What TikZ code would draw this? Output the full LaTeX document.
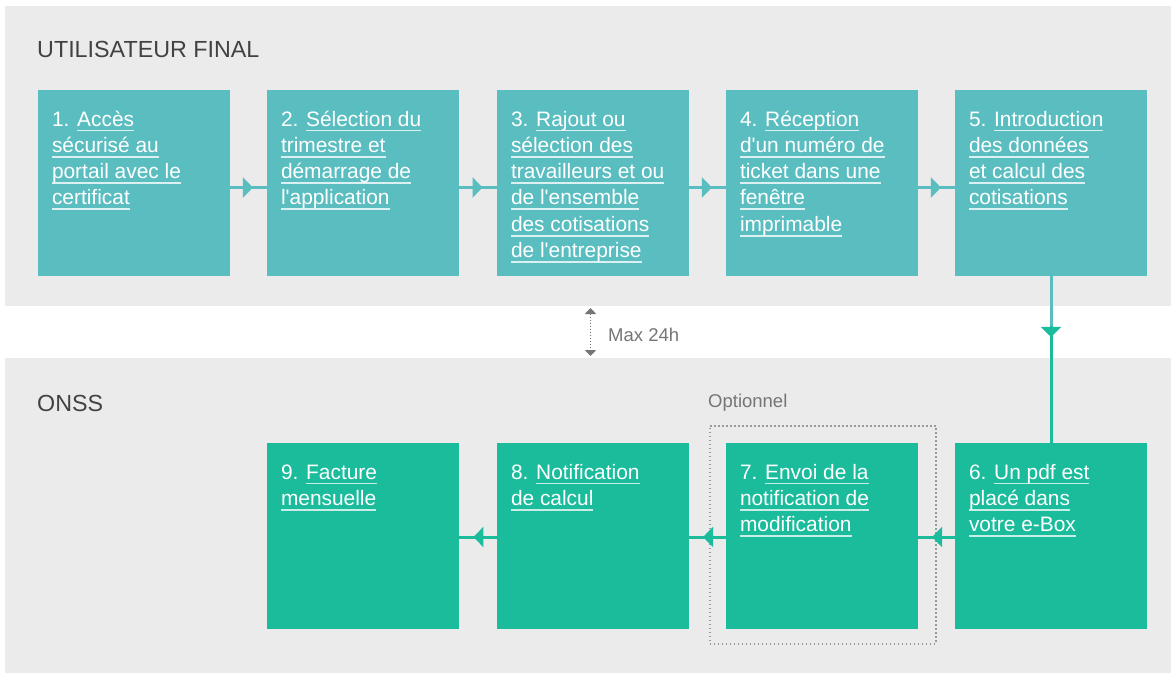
\documentclass[tikz,border=0pt]{standalone}
\usepackage{fontspec}
\setmainfont{Liberation Sans}
\usetikzlibrary{arrows.meta,decorations.markings,calc}
\definecolor{bandgray}{HTML}{EBEBEB}
\definecolor{topteal}{HTML}{5ABEC1}
\definecolor{botgreen}{HTML}{1ABC9C}
\definecolor{titlegray}{HTML}{424242}
\definecolor{labelgray}{HTML}{757575}
\definecolor{dotgray}{HTML}{9A9A9A}
\colorlet{ulc}{white}
\newcommand\ulw[1]{\setbox0\hbox{#1}\rlap{\textcolor{ulc}{\rule[-5.3pt]{\wd0}{1.8pt}}}\box0}
\newcommand\bx[2]{\vbox to 186pt{\hsize=192pt\parindent=0pt\leftskip=14pt\rightskip=0pt plus 1fil\baselineskip=26.3pt\lineskiplimit=-50pt\colorlet{ulc}{#1}\noindent\rule{0pt}{36pt}#2\par\vfil}}
\newcommand\topbx[1]{\bx{white!78!topteal}{#1}}
\newcommand\botbx[1]{\bx{white!75!botgreen}{#1}}
\tikzset{
  stepbox/.style={rectangle, fill=#1, inner sep=0pt, outer sep=0pt, anchor=north west, text=white, font=\fontsize{20.9}{26.3}\selectfont},
  flow/.style={line width=3pt, draw=#1, postaction={decorate}, decoration={markings, mark=at position 0.62 with {\arrow[#1]{Triangle[width=20pt,length=10pt]}}}},
  bandtitle/.style={anchor=base west, inner sep=0pt, text=titlegray, font=\fontsize{23.3}{27}\selectfont},
  smalllabel/.style={anchor=base west, inner sep=0pt, text=labelgray, font=\fontsize{18.5}{22}\selectfont},
}
\begin{document}
\begin{tikzpicture}[x=1pt,y=-1pt]
\useasboundingbox (0,0) rectangle (1171,675);
\fill[white] (0,0) rectangle (1171,675);
\fill[bandgray] (5,6) rectangle (1171,306);
\fill[bandgray] (5,358) rectangle (1171,673);
\node[bandtitle] (t1) at (37,57) {UTILISATEUR FINAL};
\node[bandtitle] (t2) at (37,411) {ONSS};
% top row
\node[stepbox=topteal] (b1) at (38,90) {\topbx{1. \ulw{Accès}\\\ulw{sécurisé au}\\\ulw{portail avec le}\\\ulw{certificat}}};
\node[stepbox=topteal] (b2) at (267,90) {\topbx{2. \ulw{Sélection du}\\\ulw{trimestre et}\\\ulw{démarrage de}\\\ulw{l\textquotesingle application}}};
\node[stepbox=topteal] (b3) at (497,90) {\topbx{3. \ulw{Rajout ou}\\\ulw{sélection des}\\\ulw{travailleurs et ou}\\\ulw{de l\textquotesingle ensemble}\\\ulw{des cotisations}\\\ulw{de l\textquotesingle entreprise}}};
\node[stepbox=topteal] (b4) at (726,90) {\topbx{4. \ulw{Réception}\\\ulw{d\textquotesingle un numéro de}\\\ulw{ticket dans une}\\\ulw{fenêtre}\\\ulw{imprimable}}};
\node[stepbox=topteal] (b5) at (955,90) {\topbx{5. \ulw{Introduction}\\\ulw{des données}\\\ulw{et calcul des}\\\ulw{cotisations}}};
% bottom row
\node[stepbox=botgreen] (b6) at (955,443) {\botbx{6. \ulw{Un pdf est}\\\ulw{placé dans}\\\ulw{votre e-Box}}};
\node[stepbox=botgreen] (b7) at (726,443) {\botbx{7. \ulw{Envoi de la}\\\ulw{notification de}\\\ulw{modification}}};
\node[stepbox=botgreen] (b8) at (497,443) {\botbx{8. \ulw{Notification}\\\ulw{de calcul}}};
\node[stepbox=botgreen] (b9) at (267,443) {\botbx{9. \ulw{Facture}\\\ulw{mensuelle}}};
% optional frame
\node[draw=dotgray, line width=1.5pt, dash pattern=on 1.5pt off 2.5pt, rectangle, inner sep=0pt, minimum width=226pt, minimum height=218pt, anchor=north west] (opt) at (709,425) {};
\node[smalllabel] (optl) at (708,407) {Optionnel};
% max 24h
\coordinate (m1) at (590.5,308);
\coordinate (m2) at (590.5,356);
\draw[labelgray, line width=1.5pt, dash pattern=on 1.5pt off 1.5pt, {Triangle[width=11pt,length=6pt]}-{Triangle[width=11pt,length=6pt]}] (m1) -- (m2);
\node[smalllabel] (maxl) at (608,341) {Max 24h};
% top connectors
\draw[flow=topteal] ([yshift=-4.5pt]b1.east) -- ([yshift=-4.5pt]b2.west);
\draw[flow=topteal] ([yshift=-4.5pt]b2.east) -- ([yshift=-4.5pt]b3.west);
\draw[flow=topteal] ([yshift=-4.5pt]b3.east) -- ([yshift=-4.5pt]b4.west);
\draw[flow=topteal] ([yshift=-4.5pt]b4.east) -- ([yshift=-4.5pt]b5.west);
% vertical connector
\coordinate (vj) at ($(b5.south)!0.3!(b6.north)$);
\draw[line width=3pt, draw=botgreen, postaction={decorate}, decoration={markings, mark=at position 0.365 with {\arrow[botgreen]{Triangle[width=20pt,length=10pt]}}}] (b5.south) -- (b6.north);
\draw[line width=3pt, draw=topteal] (b5.south) -- (vj);
% bottom connectors
\draw[flow=botgreen] ([yshift=-1pt]b6.west) -- ([yshift=-1pt]b7.east);
\draw[flow=botgreen] ([yshift=-1pt]b7.west) -- ([yshift=-1pt]b8.east);
\draw[flow=botgreen] ([yshift=-1pt]b8.west) -- ([yshift=-1pt]b9.east);
\end{tikzpicture}
\end{document}
